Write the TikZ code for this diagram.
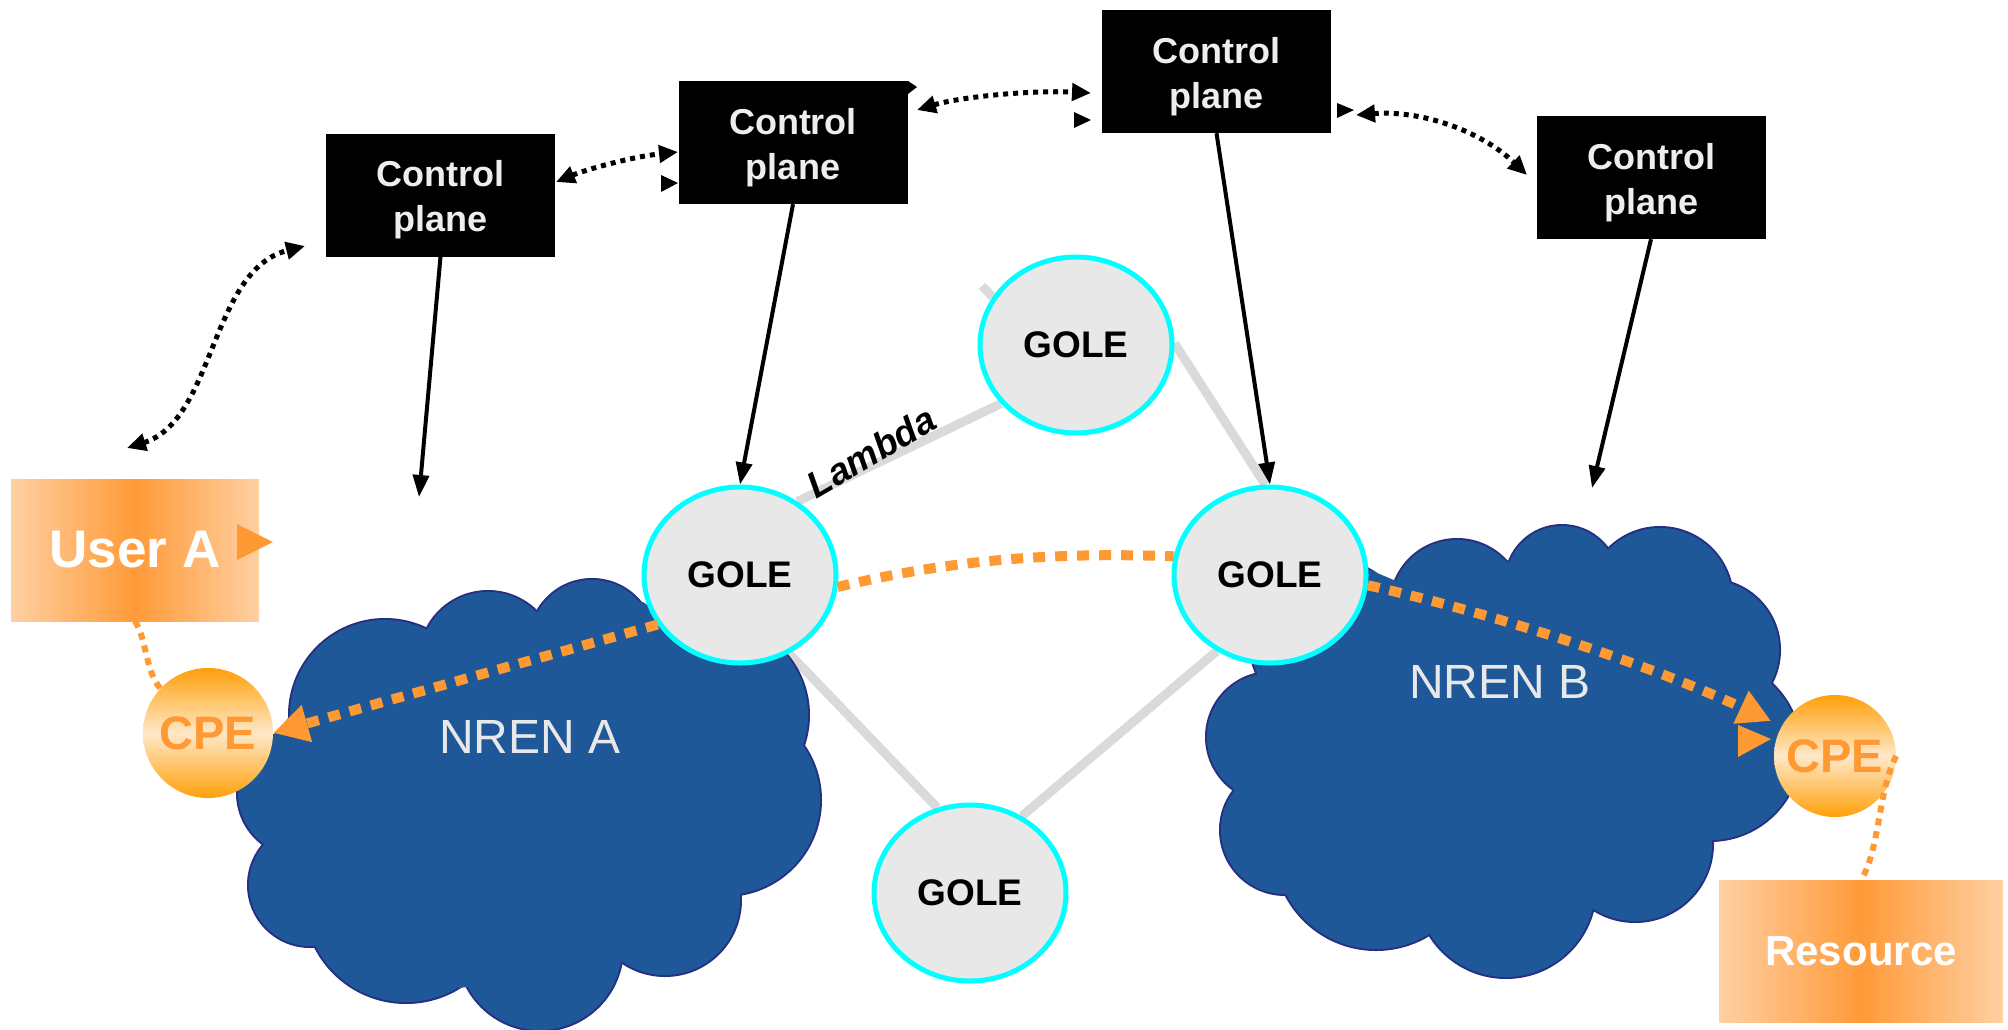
\documentclass[tikz,border=0pt]{standalone}
\usepackage{fontspec}
\setmainfont{Liberation Sans}
\usetikzlibrary{shapes.geometric,arrows.meta,backgrounds}
\definecolor{cptext}{RGB}{238,238,238}
\definecolor{golefill}{RGB}{232,232,232}
\definecolor{golering}{RGB}{0,255,255}
\definecolor{pathorange}{RGB}{255,153,51}
\definecolor{cpeedge}{RGB}{255,160,10}
\definecolor{cpemid}{RGB}{255,232,200}
\definecolor{boxlight}{RGB}{255,208,162}
\definecolor{boxdark}{RGB}{255,154,56}
\definecolor{cloudfill}{RGB}{30,88,152}
\definecolor{cloudline}{RGB}{38,48,130}
\definecolor{linkgray}{RGB}{218,218,218}
\definecolor{nrentext}{RGB}{232,232,232}
\tikzset{
  cpbox/.style={rectangle, fill=black, draw=none, minimum width=229pt, minimum height=123pt,
    inner sep=0pt, text=cptext, align=center, font=\fontsize{36}{45}\selectfont\bfseries},
  gole/.style={ellipse, draw=golering, line width=5pt, fill=golefill, minimum width=192pt,
    minimum height=176pt, inner sep=0pt, font=\fontsize{37}{44}\selectfont\bfseries},
  cpe/.style={circle, inner sep=0pt, top color=cpeedge, bottom color=cpeedge, middle color=cpemid,
    text=pathorange, font=\fontsize{47}{54}\selectfont\bfseries},
  endbox/.style={rectangle, inner sep=0pt, left color=boxlight, right color=boxlight,
    middle color=boxdark, text=white},
  ctrlarrow/.style={line width=4pt, arrows={-Triangle[length=22pt,width=16pt]}},
  sigline/.style={line width=5pt, dash pattern=on 5pt off 5pt,
    arrows={Triangle[length=19pt,width=17pt]-Triangle[length=19pt,width=17pt]}},
  pathline/.style={draw=pathorange, line width=10pt, dash pattern=on 12pt off 10pt},
  thinpath/.style={draw=pathorange, line width=6pt, dash pattern=on 7pt off 6pt},
  lambdalink/.style={draw=linkgray, line width=9pt},
  nrenlabel/.style={text=nrentext, font=\fontsize{48}{56}\selectfont},
  extratip/.style={fill=black},
}
\newcommand{\cplabel}{\rule{0pt}{36pt}Control\\plane}
\begin{document}
\begin{tikzpicture}[x=1pt,y=-1pt]
\useasboundingbox (0,0) rectangle (2008,1029);

% ---- GOLE nodes
\node[gole] (g1) at (740,575) {GOLE};
\node[gole] (g2) at (1076,345) {GOLE};
\node[gole] (g3) at (1270,575) {GOLE};
\node[gole] (g4) at (970,893) {GOLE};

\begin{pgfonlayer}{background}
  \fill[white] (0,0) rectangle (2008,1029);
  % lambda links
  \draw[lambdalink] (g1.52) -- (g2.218);
  \draw[lambdalink] (g2.1) -- (g3.93);
  \draw[lambdalink] (g1.-58) -- (g4.111);
  \draw[lambdalink] (g3.235) -- (g4.56);
  \coordinate (stub) at (982,286);
  \draw[lambdalink] (stub) -- (g2.150);
  % clouds
  \begin{scope}
  \clip (0,0) rectangle (2008,1029);
  \foreach \cx/\cy/\cr in {385/715/95, 488/660/68, 592/642/62, 680/680/70, 715/715/93,
      725/800/95, 665/900/75, 540/948/82, 406/901/101, 310/885/61, 301/793/63}
    \draw[cloudline, line width=4pt] (\cx,\cy) circle[radius=\cr pt];
  \foreach \cx/\cy/\cr in {385/715/95, 488/660/68, 592/642/62, 680/680/70, 715/715/93,
      725/800/95, 665/900/75, 540/948/82, 406/901/101, 310/885/61, 301/793/63}
    \fill[cloudfill] (\cx,\cy) circle[radius=\cr pt];
  \fill[cloudfill] (289,717) -- (426,633) -- (539,613) -- (643,602) -- (700,640) -- (789,657)
    -- (803,740) -- (741,893) -- (622,962) -- (460,988) -- (316,947) -- (264,845) -- (272,737) -- cycle;
  \foreach \cx/\cy/\cr in {1330/640/80, 1457/606/66, 1562/582/56, 1660/600/72, 1709/650/70,
      1710/750/90, 1635/844/77, 1506/888/89, 1376/848/101, 1285/830/64, 1271/737/64}
    \draw[cloudline, line width=4pt] (\cx,\cy) circle[radius=\cr pt];
  \foreach \cx/\cy/\cr in {1330/640/80, 1457/606/66, 1562/582/56, 1660/600/72, 1709/650/70,
      1710/750/90, 1635/844/77, 1506/888/89, 1376/848/101, 1285/830/64, 1271/737/64}
    \fill[cloudfill] (\cx,\cy) circle[radius=\cr pt];
  \fill[cloudfill] (1370,570) -- (1396,581) -- (1510,562) -- (1610,551) -- (1725,583) -- (1771,687)
    -- (1712,840) -- (1593,908) -- (1429,934) -- (1285,894) -- (1234,791) -- (1259,675) -- (1260,600) -- cycle;
  \end{scope}
\end{pgfonlayer}

\node[nrenlabel] (nrenA) at (530,737) {NREN A};
\node[nrenlabel] (nrenB) at (1500,682) {NREN B};

% ---- CPE and end boxes
\node[cpe, minimum size=130pt] (cpeA) at (208,733) {CPE};
\node[cpe, minimum size=122pt] (cpeB) at (1835,756) {CPE};
\node[endbox, minimum width=248pt, minimum height=142pt, font=\fontsize{53}{60}\selectfont\bfseries]
  (userA) at (135,550) {User A};
\node[endbox, minimum width=284pt, minimum height=142pt, font=\fontsize{42}{50}\selectfont\bfseries]
  (res) at (1861,951) {Resource};
\fill[pathorange] (237,524) -- (273,542) -- (237,560) -- cycle;

% ---- orange data path
\coordinate (tipB) at (1771,721);
\draw[pathline, arrows={-Triangle[length=35pt,width=36pt]}] (g1.211) -- (cpeA.east);
\draw[pathline] (g1.-7) .. controls (950,560) and (1050,552) .. (g3.169);
\draw[pathline, arrows={-Triangle[length=33pt,width=34pt]}] (g3.-6) .. controls (1500,615) and (1650,665) .. (tipB);
\fill[pathorange] (1738,725) -- (1771,739) -- (1738,757) -- cycle;
\draw[thinpath] (userA.south) .. controls (147,640) and (145,670) .. (cpeA.137);
\draw[thinpath] (cpeB.0) .. controls (1878,790) and (1880,850) .. (res.north);

% ---- control planes
\node[cpbox] (cp1) at (440.5,195) {\cplabel};
\node[cpbox] (cp2) at (793,142.5) {\cplabel};
\node[cpbox] (cp3) at (1216.5,71.5) {\cplabel};
\node[cpbox] (cp4) at (1651,177.5) {\cplabel};

\coordinate (ua) at (419,497);
\coordinate (ub) at (1592,488);
\draw[ctrlarrow] (cp1.south) -- (ua);
\draw[ctrlarrow] (cp2.south) -- (g1.north);
\draw[ctrlarrow] (cp3.south) -- (g3.north);
\draw[ctrlarrow] (cp4.south) -- (ub);

% ---- signalling (dotted double arrows)
\coordinate (d0a) at (305,246);
\coordinate (d0b) at (127,448);
\coordinate (d1a) at (556,182);
\coordinate (d1b) at (678,152);
\coordinate (d2a) at (917,110);
\coordinate (d2b) at (1091,93);
\coordinate (d3a) at (1356,115);
\coordinate (d3b) at (1527,175);
\draw[sigline] (d0b) .. controls (215,420) and (210,270) .. (d0a);
\draw[sigline] (d1a) .. controls (585,170) and (630,157) .. (d1b);
\draw[sigline] (d2a) .. controls (960,97) and (1030,90) .. (d2b);
\draw[sigline] (d3a) .. controls (1420,110) and (1480,130) .. (d3b);
\fill[extratip] (661,175) -- (678,183) -- (661,192) -- cycle;
\fill[extratip] (908,81) -- (917,87) -- (908,94) -- cycle;
\fill[extratip] (1074,112) -- (1091,120) -- (1074,128) -- cycle;
\fill[extratip] (1337,103) -- (1354,110) -- (1337,118) -- cycle;

% ---- lambda label
\node[rotate=30.5, font=\fontsize{37}{42}\selectfont\bfseries\itshape] (lambda) at (871,452) {Lambda};
\end{tikzpicture}
\end{document}
